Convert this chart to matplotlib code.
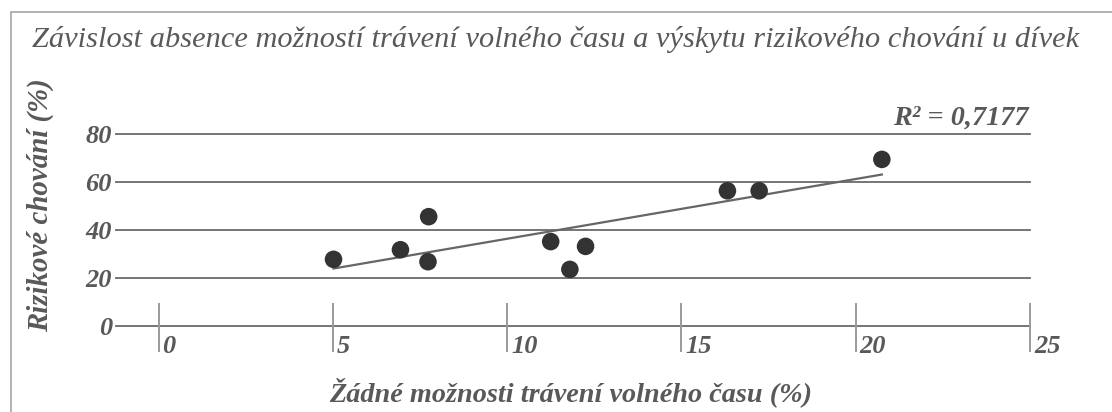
import numpy as np
import matplotlib
matplotlib.use("Agg")
import matplotlib.pyplot as plt
from matplotlib.patches import Rectangle

# data
volny_cas = [5.02, 6.94, 7.75, 7.73, 11.25, 11.80, 12.25, 16.32, 17.23, 20.75]
rizikove = [27.7, 31.7, 45.5, 26.7, 35.1, 23.5, 33.1, 56.3, 56.3, 69.4]
x_ticks = [0, 5, 10, 15, 20, 25]
y_ticks = [0, 20, 40, 60, 80]

title = "Závislost absence možností trávení volného času a výskytu rizikového chování u dívek"
x_label = "Žádné možnosti trávení volného času (%)"
y_label = "Rizikové chování (%)"
r2_text = "R² = 0,7177"

W, H = 1112, 412
TEXT_COL = "#595959"
GRID_COL = "#6a6a6a"

plt.rcParams['font.family'] = ['Liberation Serif', 'DejaVu Serif']

fig = plt.figure(figsize=(W / 100, H / 100), dpi=100)

# chart border, cut off at right and bottom like the original
fig.patches.append(Rectangle((11 / W, -0.2), 1.5, 1.2 - 12 / H,
                             transform=fig.transFigure, fill=False,
                             edgecolor="#a6a6a6", linewidth=1.2))

# axes placed so that y=0 sits at px 325.7 and y=80 at px 134
ax = fig.add_axes([116 / W, 1 - 325.7 / H, 914 / W, (325.7 - 134) / H])
ax.set_xlim(-1.22, 25)
ax.set_ylim(0, 80)
for s in ax.spines.values():
    s.set_visible(False)

# horizontal gridlines
for y in y_ticks:
    ax.axhline(y, color=GRID_COL, linewidth=1.3, clip_on=False, zorder=1)

# vertical tick bars crossing the zero line
ax.vlines(x_ticks, -11, 9.5, colors="#9a9a9a", linewidth=1.4,
          clip_on=False, zorder=1)

ax.set_xticks([])
ax.set_yticks(y_ticks)
ax.set_yticklabels([str(v) for v in y_ticks], fontsize=19,
                   fontweight='bold', fontstyle='italic', color=TEXT_COL)
ax.tick_params(axis='y', length=0, pad=3)

for xt in x_ticks:
    ax.annotate(str(xt), xy=(xt, 0), xycoords='data',
                xytext=(4, -27), textcoords='offset pixels',
                ha='left', va='baseline', fontsize=19, fontweight='bold',
                fontstyle='italic', color=TEXT_COL, annotation_clip=False)

# points
ax.scatter(volny_cas, rizikove, s=160, color="#333333", zorder=3,
           edgecolors='none', clip_on=False)

# linear trendline over the data range
k, q = np.polyfit(volny_cas, rizikove, 1)
xs = np.array([min(volny_cas), max(volny_cas)])
ax.plot(xs, k * xs + q, color="#666666", linewidth=1.6, zorder=2,
        clip_on=False)

fig.text(556 / W, 1 - 47 / H, title, ha='center', va='baseline',
         fontsize=21.9, fontstyle='italic', color=TEXT_COL)
fig.text(571 / W, 1 - 401 / H, x_label, ha='center', va='baseline',
         fontsize=20.3, fontweight='bold', fontstyle='italic', color=TEXT_COL)
fig.text(40 / W, 1 - 205 / H, y_label, ha='center', va='center',
         rotation=90, fontsize=20.8, fontweight='bold', fontstyle='italic',
         color=TEXT_COL)
fig.text(1029 / W, 1 - 125 / H, r2_text, ha='right', va='baseline',
         fontsize=20.3, fontweight='bold', fontstyle='italic', color=TEXT_COL)

fig.savefig("out.png", dpi=100)
print("saved out.png")
